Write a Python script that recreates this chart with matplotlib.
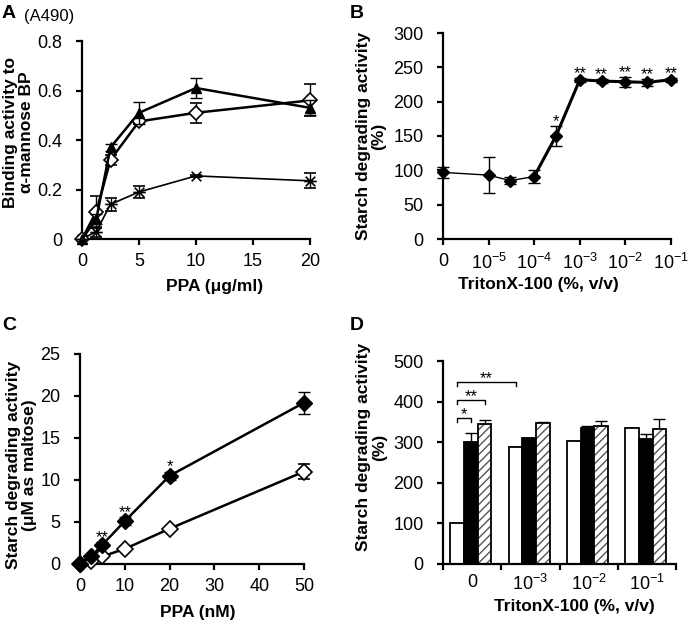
import numpy as np
import matplotlib
matplotlib.use('Agg')
import matplotlib.pyplot as plt
from matplotlib.path import Path

plt.rcParams['font.family'] = ['Liberation Sans', 'DejaVu Sans']
plt.rcParams['mathtext.fontset'] = 'custom'
plt.rcParams['mathtext.rm'] = 'Liberation Sans'
plt.rcParams['mathtext.it'] = 'Liberation Sans:italic'
plt.rcParams['mathtext.bf'] = 'Liberation Sans:bold'
plt.rcParams['mathtext.default'] = 'regular'

# ===== Data =====
# A: binding to alpha-mannose BP
ppa_a = [0, 1.25, 2.5, 5, 10, 20]
tri_a = [0, 0.08, 0.37, 0.51, 0.61, 0.53]
tri_err = [0, 0.02, 0.015, 0.045, 0.04, 0.03]
dia_a = [0, 0.11, 0.32, 0.475, 0.51, 0.56]
dia_err = [0, 0.065, 0.02, 0.01, 0.04, 0.065]
ast_a = [0, 0.03, 0.14, 0.19, 0.255, 0.235]
ast_err = [0, 0.02, 0.025, 0.025, 0.005, 0.03]

# B: Triton X-100 dose response
triton_b = [0, 1e-5, 3e-5, 1e-4, 3e-4, 1e-3, 3e-3, 1e-2, 3e-2, 1e-1]
act_b = [97, 93, 85, 91, 150, 232, 230, 229, 228, 232]
err_b = [8, 26, 5, 10, 14, 3, 3, 7, 5, 3]
sig_b = ['', '', '', '', '*', '**', '**', '**', '**', '**']
ticks_b = [0, 1e-5, 1e-4, 1e-3, 1e-2, 1e-1]
ticklabels_b = ['0', '$10^{-5}$', '$10^{-4}$', '$10^{-3}$', '$10^{-2}$', '$10^{-1}$']

# C: PPA concentration
ppa_c = [0, 2.5, 5, 10, 20, 50]
filled_c = [0, 0.9, 2.3, 5.1, 10.5, 19.2]
filled_err = [0, 0.2, 0.3, 0.5, 0.5, 1.3]
open_c = [0, 0.4, 0.9, 1.8, 4.2, 11.0]
open_err = [0, 0.1, 0.1, 0.2, 0.2, 0.9]
sig_c = ['', '', '**', '**', '*', '']

# D: bars
groups_d = ['0', '$10^{-3}$', '$10^{-2}$', '$10^{-1}$']
white_d = [100, 287, 303, 334]
white_err = [0, 0, 0, 0]
black_d = [301, 310, 336, 307]
black_err = [22, 0, 3, 12]
hatch_d = [344, 347, 339, 332]
hatch_err = [10, 3, 12, 25]
# (group, bar) -> (group, bar), label, height
brackets_d = [((0, 0), (0, 1), '*', 360),
              ((0, 0), (0, 2), '**', 403),
              ((0, 0), (1, 0), '**', 448)]


def tx(v):
    # zero sits one decade below 1e-5
    return np.where(np.asarray(v) > 0, np.log10(np.maximum(v, 1e-12)), -6.0)


# asterisk marker: X plus horizontal bar
star_path = Path([(-1, -1), (1, 1), (-1, 1), (1, -1), (-1.3, 0), (1.3, 0)],
                 [Path.MOVETO, Path.LINETO, Path.MOVETO, Path.LINETO,
                  Path.MOVETO, Path.LINETO])

W, H = 693, 622
fig = plt.figure(figsize=(W / 100, H / 100), dpi=100)


def px_axes(x0, x1, y_top, y_bot):
    return fig.add_axes([x0 / W, 1 - y_bot / H, (x1 - x0) / W, (y_bot - y_top) / H])


def style(ax):
    for s in ['top', 'right']:
        ax.spines[s].set_visible(False)
    for s in ['left', 'bottom']:
        ax.spines[s].set_linewidth(1.6)
    ax.tick_params(direction='out', length=4, width=1.6, labelsize=13)
    ax.tick_params(axis='y', pad=10)
    ax.tick_params(axis='x', pad=6)


ebkw = dict(ecolor='k', elinewidth=1.0, capsize=4, capthick=1.0)
lab_kw = dict(fontsize=12.5, fontweight='bold')
star_fs = 12

# ===== Panel A =====
axA = px_axes(82, 310, 41, 239)
axA.errorbar(ppa_a, ast_a, yerr=ast_err, color='k', lw=1.2, marker=star_path,
             ms=9, mew=1.2, mfc='none', mec='k', **ebkw, clip_on=False, zorder=3)
axA.errorbar(ppa_a, dia_a, yerr=dia_err, color='k', lw=1.8, marker='D',
             ms=7.5, mfc='white', mec='k', mew=1.2, **ebkw, clip_on=False, zorder=4)
axA.errorbar(ppa_a, tri_a, yerr=tri_err, color='k', lw=1.8, marker='^',
             ms=7.5, mfc='k', mec='k', **ebkw, clip_on=False, zorder=5)
axA.set_xlim(0, 20)
axA.set_ylim(0, 0.8)
axA.set_xticks([0, 5, 10, 15, 20])
axA.set_yticks([0, 0.2, 0.4, 0.6, 0.8])
axA.set_yticklabels(['0', '0.2', '0.4', '0.6', '0.8'])
style(axA)

# ===== Panel B =====
axB = px_axes(443, 671, 33, 239)
xb = tx(triton_b)
axB.plot(xb[:4], act_b[:4], color='k', lw=1.0, clip_on=False)
axB.plot(xb[3:], act_b[3:], color='k', lw=2.2, clip_on=False)
axB.errorbar(xb, act_b, yerr=err_b, fmt='D', color='k', ms=6, **ebkw,
             clip_on=False, zorder=4)
for x, y, e, s in zip(xb, act_b, err_b, sig_b):
    if s:
        axB.annotate(s, (x, y + e), xytext=(0, 0), textcoords='offset points',
                     ha='center', va='baseline', fontsize=star_fs)
axB.set_xlim(-6, -1)
axB.set_ylim(0, 300)
axB.set_xticks(tx(ticks_b))
axB.set_xticklabels(ticklabels_b)
axB.set_yticks(range(0, 301, 50))
style(axB)

# ===== Panel C =====
axC = px_axes(80, 304, 354, 564)
axC.errorbar(ppa_c, open_c, yerr=open_err, color='k', lw=1.8, marker='D',
             ms=8, mfc='white', mec='k', mew=1.2, **ebkw, clip_on=False, zorder=3)
axC.errorbar(ppa_c, filled_c, yerr=filled_err, color='k', lw=1.8, marker='D',
             ms=8, mfc='k', mec='k', **ebkw, clip_on=False, zorder=4)
for x, y, e, s in zip(ppa_c, filled_c, filled_err, sig_c):
    if s:
        axC.annotate(s, (x, y + e), xytext=(0, 0), textcoords='offset points',
                     ha='center', va='baseline', fontsize=star_fs)
axC.set_xlim(0, 50)
axC.set_ylim(0, 25)
axC.set_xticks(range(0, 51, 10))
axC.set_yticks(range(0, 26, 5))
style(axC)

# ===== Panel D =====
axD = px_axes(443, 676, 361, 564)
gx = np.arange(len(groups_d))
bw = 0.235
centers = [gx - 0.02 - bw, gx - 0.02, gx - 0.02 + bw]
axD.bar(centers[0], white_d, bw, color='white', edgecolor='k', lw=1.3, zorder=2)
axD.bar(centers[1], black_d, bw, color='k', edgecolor='k', lw=1.3, zorder=2)
axD.bar(centers[2], hatch_d, bw, color='white', edgecolor='#555555', lw=0,
        hatch='////', zorder=2)
axD.bar(centers[2], hatch_d, bw, color='none', edgecolor='k', lw=1.3, zorder=3)
for c, v, e in zip(centers, [white_d, black_d, hatch_d], [white_err, black_err, hatch_err]):
    axD.errorbar(c, v, yerr=[np.zeros(len(e)), e], fmt='none', zorder=1, **ebkw)
for (g1, b1), (g2, b2), s, h in brackets_d:
    x1 = centers[b1][g1]
    x2 = centers[b2][g2]
    axD.plot([x1, x1, x2, x2], [h - 10, h, h, h - 10], color='k', lw=1.0)
    axD.text((x1 + x2) / 2, h - 2, s, ha='center', va='baseline', fontsize=star_fs)
axD.set_xlim(-0.5, 3.5)
axD.set_ylim(0, 500)
axD.set_xticks(np.arange(-0.5, 3.6, 1.0))
axD.set_xticklabels([])
axD.set_xticks(gx, minor=True)
axD.set_xticklabels(groups_d, minor=True)
axD.set_yticks(range(0, 501, 100))
style(axD)
axD.tick_params(axis='x', which='minor', length=0, labelsize=13, pad=7)

# ===== Labels =====
fig.text(18.5 / W, 1 - 132 / H, 'Binding activity to\nα-mannose BP', rotation=90,
         ha='center', va='center', linespacing=1.05, **lab_kw)
fig.text(371 / W, 1 - 136 / H, 'Starch degrading activity\n(%)', rotation=90,
         ha='center', va='center', linespacing=1.05, **lab_kw)
fig.text(21.5 / W, 1 - 465 / H, 'Starch degrading activity\n(μM as maltose)', rotation=90,
         ha='center', va='center', linespacing=1.05, **lab_kw)
fig.text(371.5 / W, 1 - 447 / H, 'Starch degrading activity\n(%)', rotation=90,
         ha='center', va='center', linespacing=1.05, **lab_kw)

fig.text(215 / W, 1 - 287 / H, 'PPA (μg/ml)', ha='center', va='center', **lab_kw)
fig.text(538 / W, 1 - 285 / H, 'TritonX-100 (%, v/v)', ha='center', va='center', **lab_kw)
fig.text(198 / W, 1 - 613 / H, 'PPA (nM)', ha='center', va='center', **lab_kw)
fig.text(574 / W, 1 - 606 / H, 'TritonX-100 (%, v/v)', ha='center', va='center', **lab_kw)

fig.text(2 / W, 1 - 13 / H, 'A', ha='left', va='center', fontsize=14, fontweight='bold')
fig.text(24 / W, 1 - 17 / H, '(A490)', ha='left', va='center', fontsize=12)
fig.text(350 / W, 1 - 13 / H, 'B', ha='left', va='center', fontsize=14, fontweight='bold')
fig.text(2 / W, 1 - 326 / H, 'C', ha='left', va='center', fontsize=14, fontweight='bold')
fig.text(350 / W, 1 - 326 / H, 'D', ha='left', va='center', fontsize=14, fontweight='bold')

plt.savefig('out.png', dpi=100)
plt.close()
